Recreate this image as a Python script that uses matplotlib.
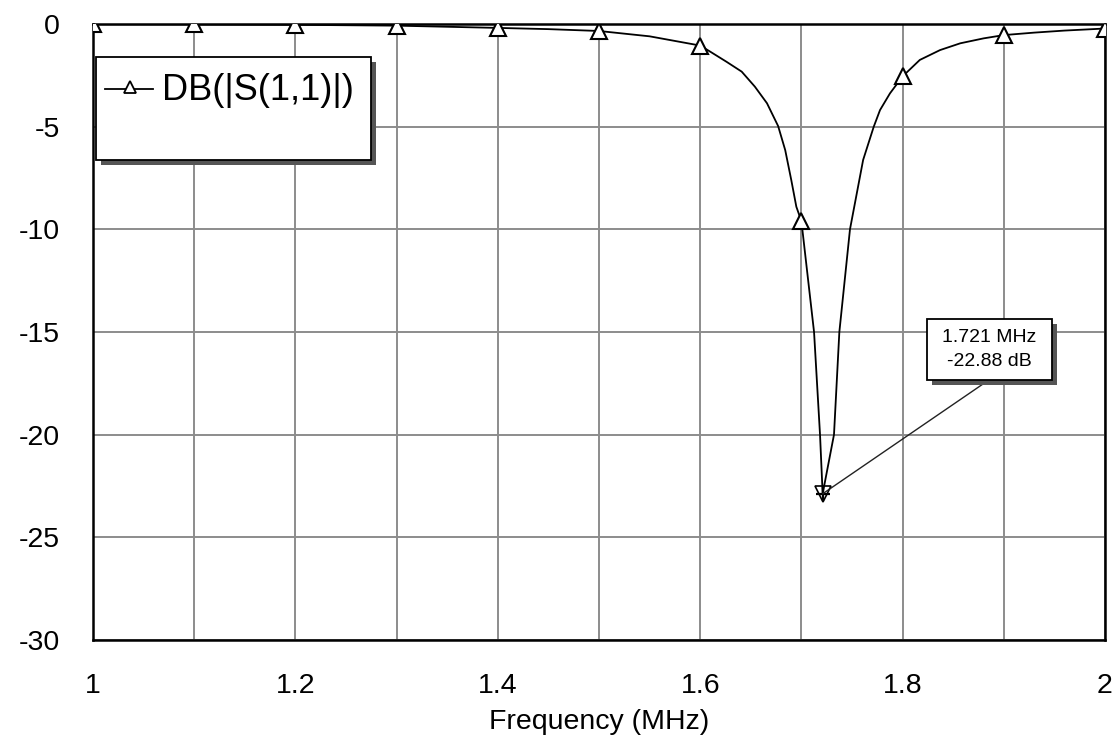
import numpy as np
import matplotlib
matplotlib.use("Agg")
import matplotlib.pyplot as plt
from matplotlib.patches import Rectangle

plt.rcParams['font.family'] = ['Liberation Sans', 'DejaVu Sans']

# S11 return-loss trace (frequency in MHz, magnitude in dB)
freq_mhz = [1.00, 1.10, 1.20, 1.30, 1.40, 1.45, 1.50, 1.55, 1.60, 1.61,
            1.626, 1.641, 1.654, 1.666, 1.677, 1.684, 1.690, 1.695, 1.70,
            1.7125, 1.7184, 1.721, 1.7322, 1.7375, 1.748, 1.761, 1.7715,
            1.7777, 1.7875, 1.80, 1.817, 1.837, 1.857, 1.88, 1.90, 1.93,
            1.96, 2.00]
s11_db = [-0.01, -0.02, -0.04, -0.08, -0.19, -0.25, -0.34, -0.60, -1.05, -1.35,
          -1.84, -2.32, -3.05, -3.86, -4.97, -6.14, -7.60, -8.90, -9.60,
          -15.0, -20.0, -22.88, -20.0, -15.0, -10.0, -6.62, -5.0,
          -4.19, -3.38, -2.55, -1.75, -1.27, -0.94, -0.70, -0.54, -0.42,
          -0.32, -0.22]

marker_freq = 1.721
marker_db = -22.88

x_ticks = [1.0, 1.2, 1.4, 1.6, 1.8, 2.0]
x_tick_labels = ["1", "1.2", "1.4", "1.6", "1.8", "2"]
y_ticks = [0, -5, -10, -15, -20, -25, -30]
y_tick_labels = ["0", "-5", "-10", "-15", "-20", "-25", "-30"]

W, H = 1118, 740
fig = plt.figure(figsize=(W / 100, H / 100), dpi=100)
ax_l, ax_t, ax_w, ax_h = 93, 24, 1012, 616
ax = fig.add_axes([ax_l / W, 1 - (ax_t + ax_h) / H, ax_w / W, ax_h / H])

ax.set_xlim(1.0, 2.0)
ax.set_ylim(-30, 0)

# grid: every 0.1 MHz vertically, every 5 dB horizontally
ax.set_xticks(np.round(np.arange(1.0, 2.0001, 0.1), 2), minor=True)
ax.set_xticks(x_ticks)
ax.set_xticklabels(x_tick_labels)
ax.set_yticks(y_ticks)
ax.set_yticklabels(y_tick_labels)
ax.grid(True, which='both', color='#8c8c8c', linewidth=1.4)
ax.set_axisbelow(True)
ax.tick_params(axis='both', which='both', length=0, labelsize=20.5)
ax.tick_params(axis='y', pad=24)
ax.tick_params(axis='x', pad=24)
for sp in ax.spines.values():
    sp.set_linewidth(1.8)
    sp.set_color('black')

ax.set_xlabel("Frequency (MHz)", fontsize=20.5, labelpad=7)

mark_idx = [i for i, f in enumerate(freq_mhz)
            if np.isclose((f * 10) % 1, 0) or np.isclose((f * 10) % 1, 1)]
ax.plot(freq_mhz, s11_db, color='black', linewidth=1.3,
        marker='^', markersize=12, markerfacecolor='white',
        markeredgecolor='black', markeredgewidth=1.5, markevery=mark_idx,
        zorder=3)

# marker readout at the resonance dip
ax.plot([marker_freq], [marker_db], marker='v', markersize=11,
        markerfacecolor='none', markeredgecolor='black', markeredgewidth=1.2,
        zorder=4)
ax.plot([marker_freq], [marker_db], marker='+', markersize=10,
        color='black', markeredgewidth=1.6, zorder=5)

def axfrac(px, py):
    return ((px - ax_l) / ax_w, (ax_t + ax_h - py) / ax_h)

bx0, by0 = axfrac(927, 380)
bx1, by1 = axfrac(1052, 319)
sh = 5 / ax_w
shy = 5 / ax_h
ax.add_patch(Rectangle((bx0 + sh, by0 - shy), bx1 - bx0, by1 - by0,
                       transform=ax.transAxes, facecolor='#555555',
                       edgecolor='none', zorder=6, clip_on=False))
ax.add_patch(Rectangle((bx0, by0), bx1 - bx0, by1 - by0,
                       transform=ax.transAxes, facecolor='white',
                       edgecolor='black', linewidth=1.3, zorder=7,
                       clip_on=False))
ax.text((bx0 + bx1) / 2, by0 + (by1 - by0) * 0.70,
        f"{marker_freq:.3f} MHz", transform=ax.transAxes, fontsize=14,
        ha='center', va='center', zorder=8)
ax.text((bx0 + bx1) / 2, by0 + (by1 - by0) * 0.30,
        f"{marker_db:.2f} dB", transform=ax.transAxes, fontsize=14,
        ha='center', va='center', zorder=8)
ax.annotate('', xy=(marker_freq, marker_db), xycoords='data',
            xytext=axfrac(983, 384), textcoords='axes fraction',
            arrowprops=dict(arrowstyle='-', color='#222222', lw=1.0,
                            shrinkA=0, shrinkB=0), zorder=5)

# legend panel
lx0, ly0 = axfrac(96, 160)
lx1, ly1 = axfrac(371, 57)
ax.add_patch(Rectangle((lx0 + sh, ly0 - shy), lx1 - lx0, ly1 - ly0,
                       transform=ax.transAxes, facecolor='#555555',
                       edgecolor='none', zorder=6, clip_on=False))
ax.add_patch(Rectangle((lx0, ly0), lx1 - lx0, ly1 - ly0,
                       transform=ax.transAxes, facecolor='white',
                       edgecolor='black', linewidth=1.3, zorder=7,
                       clip_on=False))
sx0, sy = axfrac(105, 89)
sx1, _ = axfrac(153, 89)
smx, smy = axfrac(130, 87)
ax.plot([sx0, sx1], [sy, sy], transform=ax.transAxes, color='black',
        linewidth=1.3, zorder=8, clip_on=False)
ax.plot([smx], [smy], transform=ax.transAxes, marker='^', markersize=8,
        markerfacecolor='white', markeredgecolor='black',
        markeredgewidth=1.3, zorder=9, clip_on=False)
tx, ty = axfrac(162, 90)
ax.text(tx, ty, "DB(|S(1,1)|)", transform=ax.transAxes, fontsize=26,
        ha='left', va='center', zorder=9)

fig.savefig("out.png", dpi=100, facecolor='white')
